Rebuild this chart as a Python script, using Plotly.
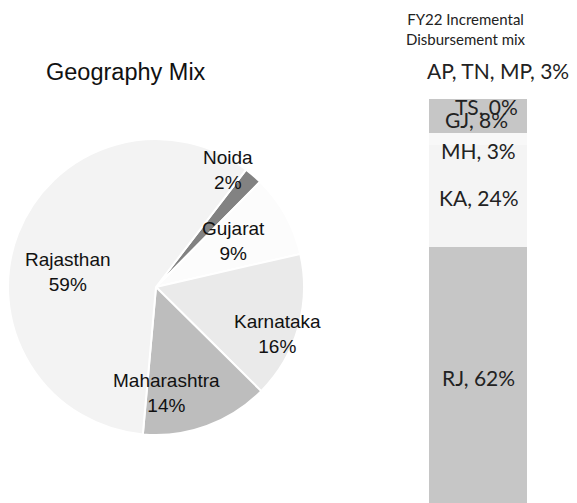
import plotly.graph_objects as go

# page body has an 8px margin, so the figure is a bit smaller than the window
OFF = 8
W, H = 577 - OFF, 503 - OFF

# left: geography mix pie (clockwise, starting with Noida)
geo_names = ["Noida", "Gujarat", "Karnataka", "Maharashtra", "Rajasthan"]
geo_share = [2, 9, 16, 14, 59]

# right: FY22 incremental disbursement mix, stacked bottom -> top
fy22_states = ["RJ", "KA", "MH", "GJ", "TS", "AP, TN, MP"]
fy22_share = [62, 24, 3, 8, 0, 3]

geo_colors = ["#828282", "#fcfcfc", "#eaeaea", "#bdbdbd", "#f3f3f3"]
bar_colors = ["#c6c6c6", "#f4f4f4", "#f8f8f8", "#c6c6c6", "#c6c6c6", "#ffffff"]

# hand-placed label spots (window pixels), like the manual placement in the source
pie_label_px = {"Noida": (228, 170), "Gujarat": (233, 241), "Karnataka": (277, 334),
                "Maharashtra": (166, 393), "Rajasthan": (68, 272)}
# (xshift, yshift) nudges for bar labels that were moved off their segment
bar_label_nudge = {"RJ": (0, 0), "KA": (0, -2), "MH": (0, -12), "GJ": (-2, -4),
                   "TS": (8, -8), "AP, TN, MP": (20, 22)}


def paper(x, y):
    return (x - OFF) / W, 1 - (y - OFF) / H


fig = go.Figure()

pie_x0, _ = paper(OFF, 0)
pie_x1, _ = paper(304, 0)
_, pie_y1 = paper(0, 287 - 160)
_, pie_y0 = paper(0, 287 + 160)
fig.add_trace(go.Pie(
    labels=geo_names,
    values=geo_share,
    sort=False,
    direction="clockwise",
    rotation=37.5,
    textinfo="none",
    hoverinfo="label+percent",
    marker=dict(colors=geo_colors, line=dict(color="white", width=2)),
    domain=dict(x=[pie_x0, pie_x1], y=[pie_y0, pie_y1]),
    showlegend=False,
))

for state, share, col in zip(fy22_states, fy22_share, bar_colors):
    fig.add_trace(go.Bar(
        x=["FY22"], y=[share], name=state,
        marker=dict(color=col, line=dict(width=0)),
        showlegend=False, xaxis="x", yaxis="y",
    ))

annotations = []
for name, share in zip(geo_names, geo_share):
    ax, ay = paper(*pie_label_px[name])
    annotations.append(dict(
        x=ax, y=ay, xref="paper", yref="paper", showarrow=False,
        xanchor="center", yanchor="middle",
        text=f"{name}<br>{share}%",
        font=dict(family="Liberation Sans, Arial", size=19, color="#111111"),
    ))

base = 0
for state, share in zip(fy22_states, fy22_share):
    mid = base + share / 2
    base += share
    dx, dy = bar_label_nudge[state]
    annotations.append(dict(
        x="FY22", y=mid, xref="x", yref="y", showarrow=False,
        xanchor="center", yanchor="middle",
        xshift=dx, yshift=dy,
        text=f"{state}, {share}%",
        font=dict(family="Lato, Open Sans", size=21, color="#222222"),
    ))

tx, ty = paper(126, 72)
annotations.append(dict(x=tx, y=ty, xref="paper", yref="paper", showarrow=False,
                        xanchor="center", yanchor="middle",
                        text="Geography Mix",
                        font=dict(family="Liberation Sans, Arial", size=23.5, color="#111111")))
tx, ty = paper(466, 29)
annotations.append(dict(x=tx, y=ty, xref="paper", yref="paper", showarrow=False,
                        xanchor="center", yanchor="middle",
                        text="FY22 Incremental<br>Disbursement mix",
                        font=dict(family="Lato, Open Sans", size=15, color="#222222")))

# bar column: 429..527 px wide, value 0 at y=509 px, 4.23 px per percent
bx0, _ = paper(400, 0)
bx1, _ = paper(556, 0)
y_top = (509 - OFF) / 4.23
y_bot = (509 - 503) / 4.23

fig.update_layout(
    width=W, height=H,
    margin=dict(l=0, r=0, t=0, b=0),
    paper_bgcolor="white", plot_bgcolor="white",
    barmode="stack", bargap=0.37,
    xaxis=dict(domain=[bx0, bx1], range=[-0.5, 0.5], visible=False),
    yaxis=dict(range=[y_bot, y_top], visible=False),
    annotations=annotations,
)

fig.write_html("out.html")
